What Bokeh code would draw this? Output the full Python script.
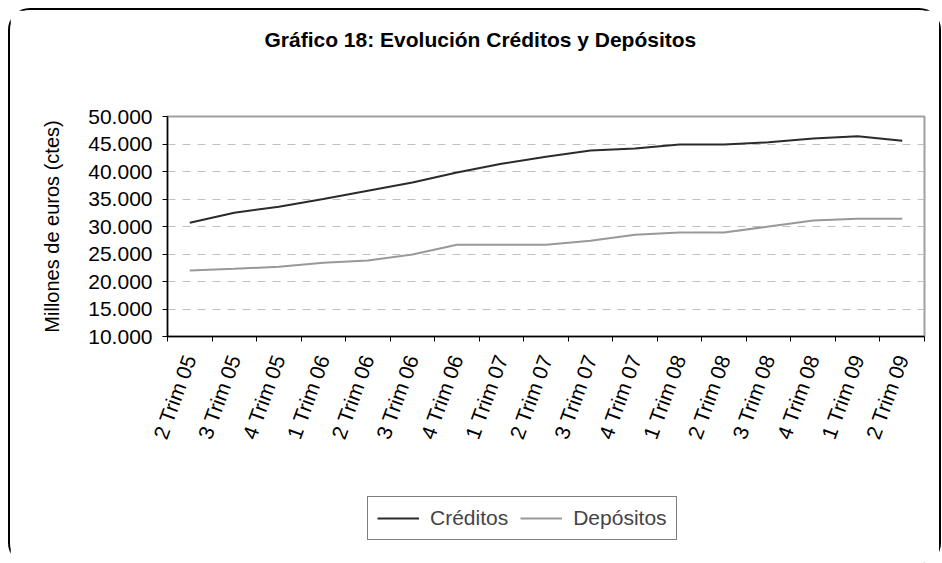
import math
from bokeh.plotting import figure
from bokeh.layouts import column
from bokeh.models import (FixedTicker, Legend, LegendItem, Title,
                          ColumnDataSource, Range1d)
from bokeh.embed import file_html
from bokeh.resources import INLINE

# ---- data ----
categories = ["2 Trim 05", "3 Trim 05", "4 Trim 05", "1 Trim 06", "2 Trim 06", "3 Trim 06",
              "4 Trim 06", "1 Trim 07", "2 Trim 07", "3 Trim 07", "4 Trim 07", "1 Trim 08",
              "2 Trim 08", "3 Trim 08", "4 Trim 08", "1 Trim 09", "2 Trim 09"]
creditos = [30700, 32500, 33600, 35000, 36500, 38000, 39800, 41400, 42700,
            43800, 44200, 44900, 44900, 45300, 46000, 46400, 45600]
depositos = [22000, 22300, 22700, 23400, 23800, 24900, 26700, 26700, 26700,
             27400, 28500, 28900, 28900, 30000, 31100, 31400, 31400]
y_ticks = [10000, 15000, 20000, 25000, 30000, 35000, 40000, 45000, 50000]
y_tick_labels = ["10.000", "15.000", "20.000", "25.000", "30.000", "35.000",
                 "40.000", "45.000", "50.000"]
title_text = "Gráfico 18: Evolución Créditos y Depósitos"
y_label = "Millones de euros (ctes)"
series_names = ["Créditos", "Depósitos"]

FONT = "Liberation Sans"
W, H1, H2 = 929, 470, 83
C_COL, D_COL = "#2b2b2b", "#999999"

xs = list(range(len(categories)))
src = ColumnDataSource(dict(x=xs, c=creditos, d=depositos))

p = figure(width=W, height=H1, output_backend="svg", toolbar_location=None,
           x_range=Range1d(-0.5, len(categories) - 0.5),
           y_range=Range1d(10000, 50000),
           min_border_left=157, min_border_right=15, min_border_top=106,
           min_border_bottom=144)
p.background_fill_color = "white"
p.border_fill_color = "white"
p.outline_line_color = "#a0a0a0"
p.outline_line_width = 2

# x axis: labels at centres, ticks at boundaries
xt = FixedTicker(ticks=xs, minor_ticks=[i - 0.5 for i in range(len(categories) + 1)])
p.xaxis.ticker = xt
p.xaxis.major_label_overrides = {i: c for i, c in enumerate(categories)}
p.xaxis.major_label_orientation = math.radians(70)
p.xaxis.major_tick_out = 0
p.xaxis.major_tick_in = 0
p.xaxis.minor_tick_out = 5
p.xaxis.minor_tick_in = 0
p.xaxis.minor_tick_line_color = "black"
p.xaxis.axis_line_color = "black"
p.xaxis.axis_line_width = 1.5
p.xaxis.major_label_text_font = FONT
p.xaxis.major_label_text_font_size = "21px"
p.xaxis.major_label_text_color = "black"
p.xaxis.major_label_standoff = 14

# y axis
p.yaxis.ticker = FixedTicker(ticks=y_ticks)
p.yaxis.major_label_overrides = {t: l for t, l in zip(y_ticks, y_tick_labels)}
p.yaxis.major_tick_out = 5
p.yaxis.major_tick_in = 0
p.yaxis.minor_tick_line_color = None
p.yaxis.axis_line_color = "black"
p.yaxis.axis_line_width = 1.5
p.yaxis.major_label_text_font = FONT
p.yaxis.major_label_text_font_size = "21px"
p.yaxis.major_label_text_color = "black"
p.yaxis.major_label_standoff = 10
p.yaxis.axis_label = y_label
p.yaxis.axis_label_text_font = FONT
p.yaxis.axis_label_text_font_size = "20px"
p.yaxis.axis_label_text_font_style = "normal"
p.yaxis.axis_label_text_color = "black"
p.yaxis.axis_label_standoff = 22

p.xgrid.grid_line_color = None
p.ygrid.grid_line_color = "#c0c0c0"
p.ygrid.grid_line_dash = "8 7"
p.ygrid.grid_line_width = 1

p.line("x", "c", source=src, line_color=C_COL, line_width=2)
p.line("x", "d", source=src, line_color=D_COL, line_width=2)

spacer = Title(text=" ", standoff=36, text_font=FONT, text_font_size="21px",
               text_color="white")
p.add_layout(spacer, "above")
p.title.text = title_text
p.title.align = "left"
p.title.offset = 97
p.title.standoff = 10
p.title.text_font = FONT
p.title.text_font_size = "21px"
p.title.text_font_style = "bold"
p.title.text_color = "black"

# ---- legend strip below the chart (same series, same data) ----
p2 = figure(width=W, height=H2, output_backend="svg", toolbar_location=None,
            x_range=p.x_range, y_range=Range1d(0, 1),
            x_axis_location=None, y_axis_location=None, min_border=0)
p2.grid.visible = False
p2.outline_line_color = None
p2.background_fill_color = "white"
p2.border_fill_color = "white"
l1 = p2.line("x", "c", source=src, line_color=C_COL, line_width=2)
l2 = p2.line("x", "d", source=src, line_color=D_COL, line_width=2)

legend = Legend(items=[LegendItem(label=series_names[0], renderers=[l1]),
                       LegendItem(label=series_names[1], renderers=[l2])],
                orientation="horizontal", location=(200, 23),
                border_line_color="black", border_line_width=1,
                label_text_font=FONT, label_text_font_size="21px",
                glyph_width=42, label_standoff=11, spacing=12,
                padding=9, margin=0, background_fill_alpha=1)
p2.add_layout(legend, "center")

layout = column(p, p2, spacing=0)
layout.styles = {"position": "relative", "left": "10px", "top": "10px",
                 "outline": "2px solid black", "outline-offset": "0px",
                 "border-radius": "20px"}

open("out.html", "w").write(file_html(layout, INLINE))
